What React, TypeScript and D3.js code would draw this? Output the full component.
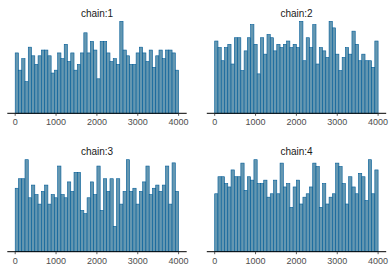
import React from "react";
import * as d3 from "d3";

const chainLabels = ["chain:1", "chain:2", "chain:3", "chain:4"];
const rankTicks = [0, 1000, 2000, 3000, 4000];
const binWidth = 80;

const chain1 = [21, 15, 19, 11, 23, 20, 17, 20, 22, 22, 20, 14, 15, 21, 19, 24, 18, 21, 15, 17, 21, 28, 21, 25, 22, 12, 25, 25, 21, 18, 19, 17, 32, 22, 20, 17, 17, 21, 23, 21, 18, 22, 16, 20, 22, 19, 22, 22, 21, 15];
const chain2 = [22, 20, 16, 20, 21, 15, 23, 23, 13, 19, 23, 27, 21, 12, 23, 18, 24, 23, 19, 21, 20, 21, 22, 20, 21, 20, 28, 16, 23, 20, 27, 15, 20, 19, 17, 28, 26, 18, 13, 17, 20, 18, 25, 21, 16, 18, 16, 16, 14, 22];
const chain3 = [20, 23, 23, 29, 17, 21, 18, 15, 19, 21, 15, 18, 17, 27, 18, 17, 22, 19, 25, 25, 13, 12, 17, 22, 18, 27, 13, 23, 19, 23, 8, 23, 15, 19, 29, 19, 20, 15, 19, 22, 27, 18, 20, 21, 19, 21, 27, 15, 28, 19];
const chain4 = [17, 22, 22, 20, 19, 24, 22, 22, 26, 18, 22, 21, 27, 20, 20, 21, 16, 17, 21, 17, 26, 19, 20, 13, 19, 21, 14, 16, 17, 19, 26, 25, 13, 20, 14, 16, 17, 26, 25, 20, 14, 22, 19, 17, 23, 22, 15, 27, 17, 24];

const chains = [chain1, chain2, chain3, chain4];

const FILL = "#6497b1";
const STROKE = "#005b96";

function Panel({ counts, label, col, row }: { counts: number[]; label: string; col: number; row: number }) {
  const axisX0 = 7.3 + col * 199.5;
  const axisX1 = axisX0 + 179.4;
  const baseY = row === 0 ? 113.3 : 251.7;
  const x = d3.scaleLinear().domain([0, 4000]).range([axisX0 + 7.9, axisX1 - 8.1]);
  const maxC = d3.max(counts) as number;
  const y = d3.scaleLinear().domain([0, maxC]).range([baseY, baseY - 92]);
  const cx = (axisX0 + axisX1) / 2;
  return (
    <g>
      <text x={cx} y={baseY - 96.5} textAnchor="middle" fontSize={10} fill="#1a1a1a" fontFamily="Liberation Sans, Arial, sans-serif">
        {label}
      </text>
      {counts.map((c, i) => {
        const x0 = x(i * binWidth);
        const x1 = x((i + 1) * binWidth);
        return (
          <rect key={i} x={x0} y={y(c)} width={x1 - x0} height={baseY - y(c)} fill={FILL} stroke={STROKE} strokeWidth={0.6} />
        );
      })}
      <line x1={axisX0} x2={axisX1} y1={baseY} y2={baseY} stroke="#000" strokeWidth={1} />
      {rankTicks.map((t) => (
        <g key={t}>
          <line x1={x(t)} x2={x(t)} y1={baseY} y2={baseY + 2.5} stroke="#333" strokeWidth={0.8} />
          <text x={x(t)} y={baseY + 11.8} textAnchor="middle" fontSize={9} fill="#4d4d4d" fontFamily="Liberation Sans, Arial, sans-serif">
            {t}
          </text>
        </g>
      ))}
    </g>
  );
}

export default function App() {
  return (
    <svg width={390} height={270} style={{ position: "absolute", left: 0, top: 0, background: "#fff" }}>
      <rect width={390} height={270} fill="#fff" />
      {chains.map((c, i) => (
        <Panel key={i} counts={c} label={chainLabels[i]} col={i % 2} row={Math.floor(i / 2)} />
      ))}
    </svg>
  );
}
